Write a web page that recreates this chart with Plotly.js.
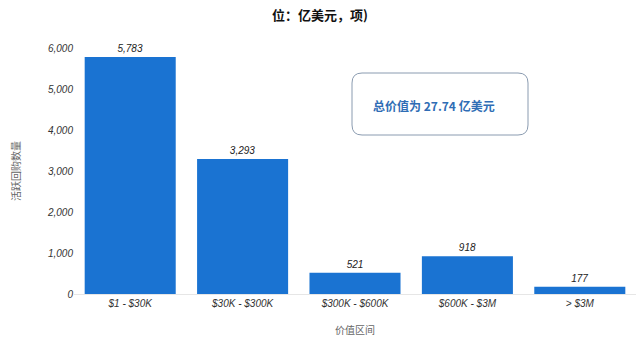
<!DOCTYPE html>
<html><head><meta charset="utf-8">
<script src="https://cdn.plot.ly/plotly-3.0.1.min.js"></script>
<style>html,body{margin:0;padding:0;background:#fff;}#c{width:640px;height:351px;}</style>
</head><body><div id="c"></div>
<script>
var categories = ["$1 - $30K", "$30K - $300K", "$300K - $600K", "$600K - $3M", "> $3M"];
var counts = [5783, 3293, 521, 918, 177];
var countLabels = ["5,783", "3,293", "521", "918", "177"];
var yTickVals = [0, 1000, 2000, 3000, 4000, 5000, 6000];
var yTickText = ["0", "1,000", "2,000", "3,000", "4,000", "5,000", "6,000"];

var L = 74, R = 636, T = 48, B = 294;
function px(x){ return (x - L) / (R - L); }
function py(y){ return (B - y) / (B - T); }
function roundRect(x0, y0, x1, y1, r){
  return "M" + px(x0 + r) + "," + py(y0) +
    " L" + px(x1 - r) + "," + py(y0) +
    " Q" + px(x1) + "," + py(y0) + " " + px(x1) + "," + py(y0 + r) +
    " L" + px(x1) + "," + py(y1 - r) +
    " Q" + px(x1) + "," + py(y1) + " " + px(x1 - r) + "," + py(y1) +
    " L" + px(x0 + r) + "," + py(y1) +
    " Q" + px(x0) + "," + py(y1) + " " + px(x0) + "," + py(y1 - r) +
    " L" + px(x0) + "," + py(y0 + r) +
    " Q" + px(x0) + "," + py(y0) + " " + px(x0 + r) + "," + py(y0) + " Z";
}

var trace = {
  type: "bar", x: categories, y: counts,
  marker: {color: "#1a73d2"},
  text: countLabels, textposition: "outside", cliponaxis: false,
  textfont: {family: "Liberation Sans, Arial", size: 10, color: "#222", style: "italic"},
  hoverinfo: "none"
};

var layout = {
  width: 640, height: 351,
  margin: {l: L, r: 640 - R, t: T, b: 351 - B},
  paper_bgcolor: "#fff", plot_bgcolor: "#fff",
  bargap: 0.19,
  showlegend: false,
  font: {family: "Liberation Sans, Arial", color: "#444"},
  xaxis: {
    showgrid: false, zeroline: false, showline: true, linecolor: "#e6e6e6",
    ticks: "", tickfont: {size: 10, color: "#333", style: "italic"},
    title: {text: "价值区间", font: {family: "Noto Sans CJK SC", size: 10, color: "#666"}, standoff: 18}
  },
  yaxis: {
    range: [0, 6000], showgrid: false, zeroline: false, showline: false,
    tickvals: yTickVals, ticktext: yTickText, ticks: "",
    tickfont: {size: 10, color: "#333", style: "italic"},
    title: {text: "活跃回购数量", font: {family: "Noto Sans CJK SC", size: 10, color: "#666"}, standoff: 24}
  },
  shapes: [{
    type: "path", xref: "paper", yref: "paper",
    path: roundRect(352, 73, 528, 135, 10),
    line: {color: "#8a9bb0", width: 1}, fillcolor: "rgba(255,255,255,0)"
  }],
  annotations: [
    {xref: "paper", yref: "paper", x: px(320), y: py(14), text: "<b>位：亿美元，项)</b>", showarrow: false,
     font: {family: "Noto Sans CJK SC", size: 13, color: "#111"}, xanchor: "center", yanchor: "middle"},
    {xref: "paper", yref: "paper", x: px(434), y: py(106), text: "<b>总价值为 27.74 亿美元</b>", showarrow: false,
     font: {family: "Noto Sans CJK SC", size: 12, color: "#2f6db5"}, xanchor: "center", yanchor: "middle"}
  ]
};

Plotly.newPlot("c", [trace], layout, {staticPlot: true, displayModeBar: false});
</script>
</body></html>
